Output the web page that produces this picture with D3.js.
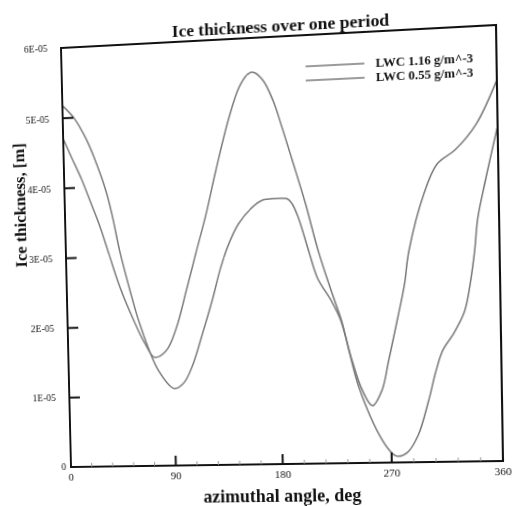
<!DOCTYPE html>
<html>
<head>
<meta charset="utf-8">
<script src="https://cdn.jsdelivr.net/npm/d3@7"></script>
<style>
  html, body { margin: 0; padding: 0; background: #fff; overflow: hidden; }
  #page { position: absolute; left: 0; top: 0; width: 514px; height: 506px; transform-origin: 0 0; }
  text { font-family: "Liberation Serif", "Times New Roman", serif; fill: #111; }
</style>
</head>
<body>
<div id="page"><svg id="chart" width="514" height="506"></svg></div>
<script>
// azimuthal angle (deg) and ice thickness (m)
const angleA = [0, 7, 15, 22, 30, 37, 46, 57, 66, 74, 84, 93, 102, 111, 120, 129, 141, 150, 157, 162, 170, 178, 185, 193, 203, 213, 223, 231, 237, 243, 251, 259, 267, 274, 283, 292, 301, 307, 313, 322, 331, 336, 340, 343, 350, 360];
const thickA = [4.71e-5, 4.43e-5, 4.12e-5, 3.80e-5, 3.43e-5, 3.04e-5, 2.55e-5, 2.08e-5, 1.75e-5, 1.55e-5, 1.64e-5, 1.96e-5, 2.48e-5, 3.02e-5, 3.55e-5, 4.16e-5, 4.90e-5, 5.32e-5, 5.49e-5, 5.52e-5, 5.40e-5, 5.11e-5, 4.73e-5, 4.26e-5, 3.66e-5, 2.98e-5, 2.42e-5, 2.00e-5, 1.55e-5, 1.13e-5, 0.74e-5, 0.43e-5, 0.20e-5, 0.09e-5, 0.14e-5, 0.38e-5, 0.86e-5, 1.25e-5, 1.55e-5, 1.78e-5, 2.08e-5, 2.46e-5, 2.91e-5, 3.37e-5, 3.91e-5, 4.62e-5];

const angleB = [0, 10, 20, 28, 36, 41, 46, 54, 62, 77, 90, 98, 106, 115, 124, 131, 138, 147, 159, 167, 178, 188, 192, 197, 205, 212, 223, 230, 239, 247, 255, 263, 269, 277, 283, 287, 300, 311, 326, 343, 360];
const thickB = [5.18e-5, 4.99e-5, 4.68e-5, 4.34e-5, 3.92e-5, 3.55e-5, 3.10e-5, 2.53e-5, 2.03e-5, 1.36e-5, 1.10e-5, 1.17e-5, 1.42e-5, 1.87e-5, 2.35e-5, 2.77e-5, 3.10e-5, 3.40e-5, 3.63e-5, 3.72e-5, 3.74e-5, 3.73e-5, 3.66e-5, 3.46e-5, 2.99e-5, 2.60e-5, 2.28e-5, 2.02e-5, 1.44e-5, 1.02e-5, 0.80e-5, 1.01e-5, 1.43e-5, 2.02e-5, 2.49e-5, 2.94e-5, 3.73e-5, 4.13e-5, 4.32e-5, 4.66e-5, 5.25e-5];

const seriesNames = ["LWC 1.16 g/m^-3", "LWC 0.55 g/m^-3"];

const xTicks = [0, 90, 180, 270, 360];
const xMinor = [18, 36, 54, 72, 108, 126, 144, 162, 198, 216, 234, 252, 288, 306, 324, 342];
const yTicks = [0, 1e-5, 2e-5, 3e-5, 4e-5, 5e-5, 6e-5];
const yLabels = ["0", "1E-05", "2E-05", "3E-05", "4E-05", "5E-05", "6E-05"];

// the original is a photo of a page: warp the flat drawing onto the photographed frame
const flat = { left: 66, right: 499, top: 37, bottom: 464 };
const photoCorners = [[61, 48], [496, 25], [503, 461], [71, 467]];

function homography(src, dst) {
  let A = [];
  src.forEach(function(p, i) {
    let X = dst[i][0], Y = dst[i][1];
    A.push([p[0], p[1], 1, 0, 0, 0, -p[0] * X, -p[1] * X, X]);
    A.push([0, 0, 0, p[0], p[1], 1, -p[0] * Y, -p[1] * Y, Y]);
  });
  for (let c = 0; c < 8; c++) {
    let piv = c;
    for (let r = c + 1; r < 8; r++) if (Math.abs(A[r][c]) > Math.abs(A[piv][c])) piv = r;
    [A[c], A[piv]] = [A[piv], A[c]];
    for (let r = 0; r < 8; r++) {
      if (r === c) continue;
      let f = A[r][c] / A[c][c];
      for (let k = c; k < 9; k++) A[r][k] -= f * A[c][k];
    }
  }
  return A.map(function(row, i) { return row[8] / row[i]; });
}

let h = homography(
  [[flat.left, flat.top], [flat.right, flat.top], [flat.right, flat.bottom], [flat.left, flat.bottom]],
  photoCorners);
d3.select('#page').style('transform',
  'matrix3d(' + [h[0], h[3], 0, h[6], h[1], h[4], 0, h[7], 0, 0, 1, 0, h[2], h[5], 0, 1].join(',') + ')');

let svg = d3.select('#chart');
let x = d3.scaleLinear().domain([0, 360]).range([flat.left, flat.right]);
let y = d3.scaleLinear().domain([0, 6e-5]).range([flat.bottom, flat.top]);

// title
svg.append('text')
   .attr('x', 288).attr('y', 32)
   .style('text-anchor', 'middle')
   .style('font-size', '17.5px')
   .style('font-weight', 'bold')
   .text('Ice thickness over one period');

// curves
let line = d3.line()
  .x(function(d) { return x(d[0]); })
  .y(function(d) { return y(d[1]); })
  .curve(d3.curveCatmullRom.alpha(0.5));

[[angleA, thickA], [angleB, thickB]].forEach(function(s) {
  svg.append('path')
     .datum(d3.zip(s[0], s[1]))
     .attr('fill', 'none')
     .attr('stroke', '#7a7a7a')
     .attr('stroke-width', 1.5)
     .attr('d', line);
});

// frame
svg.append('rect')
   .attr('x', flat.left).attr('y', flat.top)
   .attr('width', flat.right - flat.left).attr('height', flat.bottom - flat.top)
   .attr('fill', 'none').attr('stroke', '#111').attr('stroke-width', 2);

// ticks
svg.selectAll('line.ytick').data(yTicks.slice(1, -1)).enter().append('line')
   .attr('class', 'ytick')
   .attr('x1', flat.left).attr('x2', flat.left + 11)
   .attr('y1', function(d) { return y(d); }).attr('y2', function(d) { return y(d); })
   .attr('stroke', '#111').attr('stroke-width', 2);

svg.selectAll('line.xtick').data(xTicks.slice(1, -1)).enter().append('line')
   .attr('class', 'xtick')
   .attr('x1', function(d) { return x(d); }).attr('x2', function(d) { return x(d); })
   .attr('y1', flat.bottom).attr('y2', flat.bottom - 10)
   .attr('stroke', '#111').attr('stroke-width', 2);

svg.selectAll('line.xminor').data(xMinor).enter().append('line')
   .attr('class', 'xminor')
   .attr('x1', function(d) { return x(d); }).attr('x2', function(d) { return x(d); })
   .attr('y1', flat.bottom).attr('y2', flat.bottom - 4)
   .attr('stroke', '#999').attr('stroke-width', 1);

// tick labels
svg.selectAll('text.ylab').data(yTicks).enter().append('text')
   .attr('class', 'ylab')
   .attr('x', function(d) { return flat.left - (d === 0 ? 5 : 14); })
   .attr('y', function(d) { return y(d); })
   .attr('dy', '0.35em')
   .style('text-anchor', 'end')
   .style('font-size', '10px')
   .text(function(d, i) { return yLabels[i]; });

svg.selectAll('text.xlab').data(xTicks).enter().append('text')
   .attr('class', 'xlab')
   .attr('x', function(d) { return x(d); })
   .attr('y', flat.bottom + 14)
   .style('text-anchor', 'middle')
   .style('font-size', '11px')
   .text(function(d) { return d; });

// axis titles
svg.append('text')
   .attr('x', 281).attr('y', 502)
   .style('text-anchor', 'middle')
   .style('font-size', '18px')
   .style('font-weight', 'bold')
   .text('azimuthal angle, deg');

svg.append('text')
   .attr('transform', 'translate(25,195) rotate(-90)')
   .style('text-anchor', 'middle')
   .style('font-size', '17px')
   .style('font-weight', 'bold')
   .text('Ice thickness, [m]');

// legend
let legend = svg.selectAll('g.legend').data(seriesNames).enter().append('g')
   .attr('class', 'legend')
   .attr('transform', function(d, i) { return 'translate(0,' + (68 + i * 14) + ')'; });
legend.append('line')
   .attr('x1', 313).attr('x2', 371).attr('y1', 0).attr('y2', 0)
   .attr('stroke', '#7a7a7a').attr('stroke-width', 1.5);
legend.append('text')
   .attr('x', 382).attr('y', 4)
   .style('font-size', '12.5px')
   .style('font-weight', 'bold')
   .text(function(d) { return d; });
</script>
</body>
</html>
